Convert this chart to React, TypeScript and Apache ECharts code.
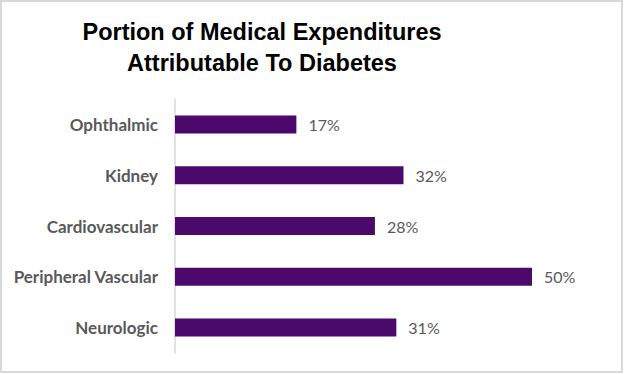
import React, { useEffect, useRef } from "react";
import * as echarts from "echarts";

const categories = ["Ophthalmic", "Kidney", "Cardiovascular", "Peripheral Vascular", "Neurologic"];
const values = [17, 32, 28, 50, 31];
const titleLines = ["Portion of Medical Expenditures", "Attributable To Diabetes"];

export default function App() {
  const ref = useRef<HTMLDivElement>(null);
  useEffect(() => {
    document.body.style.margin = "0";
    const chart = echarts.init(ref.current!, null, { renderer: "svg" });
    chart.setOption({
      animation: false,
      backgroundColor: "#ffffff",
      title: {
        text: titleLines.join("\n"),
        left: 257,
        top: 11,
        textAlign: "center",
        textStyle: {
          fontFamily: "Liberation Sans, Arial, sans-serif",
          fontWeight: "bold",
          fontSize: 23.5,
          lineHeight: 31,
          color: "#000000",
        },
      },
      graphic: [
        {
          type: "rect",
          shape: { x: 1, y: 1, width: 621, height: 371 },
          style: { fill: "none", stroke: "#d9d9d9", lineWidth: 2 },
          silent: true,
        },
      ],
      grid: { left: 175, top: 99, width: 357, height: 254, containLabel: false },
      xAxis: {
        type: "value",
        min: 0,
        max: 50,
        show: false,
      },
      yAxis: {
        type: "category",
        data: categories,
        inverse: true,
        axisLine: { show: true, lineStyle: { color: "#d9d9d9", width: 1.5 } },
        axisTick: { show: false },
        axisLabel: {
          margin: 17,
          fontFamily: "Lato, Carlito, sans-serif",
          fontWeight: "bold",
          fontSize: 17,
          color: "#595959",
        },
      },
      series: [
        {
          type: "bar",
          data: values,
          barWidth: 18,
          itemStyle: { color: "#4b0a6b" },
          label: {
            show: true,
            position: "right",
            distance: 12,
            formatter: "{c}%",
            fontFamily: "Lato, Carlito, sans-serif",
            fontSize: 16,
            color: "#595959",
          },
        },
      ],
    });
    return () => chart.dispose();
  }, []);
  return <div ref={ref} style={{ width: 624, height: 374 }} />;
}
